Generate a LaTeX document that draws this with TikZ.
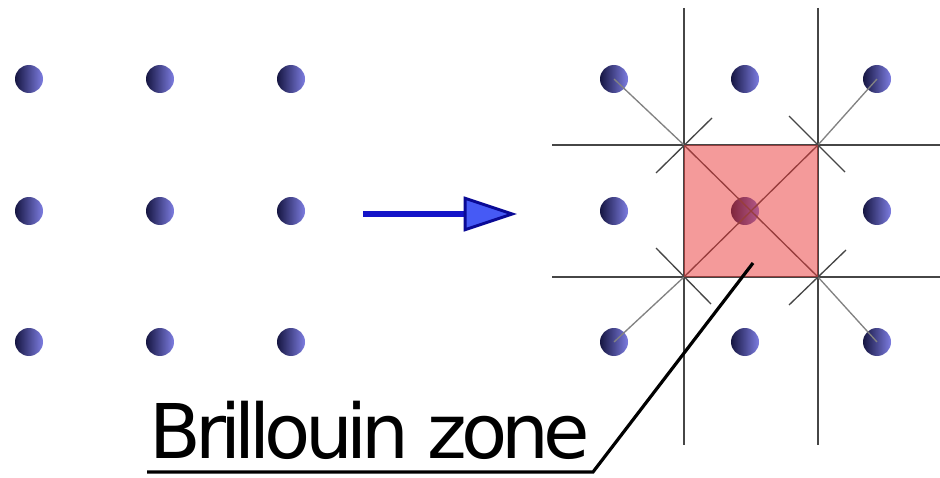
\documentclass[tikz,border=0pt]{standalone}
\usepackage{fontspec}
\newfontfamily\labfont[LetterSpace=-8]{DejaVu Sans}
\usetikzlibrary{arrows.meta}
\definecolor{dotdark}{RGB}{22,22,66}
\definecolor{dotlight}{RGB}{125,125,225}
\definecolor{gridcol}{RGB}{70,70,70}
\definecolor{diagcol}{RGB}{130,130,130}
\definecolor{zonered}{RGB}{235,55,55}
\definecolor{arrowblue}{RGB}{20,20,200}
\definecolor{arrowfill}{RGB}{70,90,245}
\definecolor{arrowedge}{RGB}{10,10,150}
\tikzset{
  atom/.style={circle, minimum size=21pt, inner sep=0pt, left color=dotdark, right color=dotlight, shading angle=90},
  gridline/.style={draw=gridcol, line width=1pt},
  dline/.style={draw=diagcol, line width=1pt},
  tick/.style={draw=gridcol, line width=1pt},
  leader/.style={draw=black, line width=2.4pt, line join=miter},
}
\begin{document}
\begin{tikzpicture}[x=0.75pt,y=-0.75pt]
\useasboundingbox[fill=white] (0,0) rectangle (940,478);
% left lattice
\foreach \i/\x in {1/29,2/160,3/291}{
  \foreach \j/\y in {1/79,2/211,3/342}{
    \node[atom] (L\i\j) at (\x,\y) {};
  }
}
% right lattice
\foreach \i/\x in {1/614,2/745,3/877}{
  \foreach \j/\y in {1/79,2/211,3/342}{
    \node[atom] (R\i\j) at (\x,\y) {};
  }
}
% zone corners
\coordinate (c1) at (684,145);
\coordinate (c2) at (818,145);
\coordinate (c3) at (818,277);
\coordinate (c4) at (684,277);
% grid lines
\draw[gridline] (684,8) -- (684,445);
\draw[gridline] (818,8) -- (818,445);
\draw[gridline] (552,145) -- (940,145);
\draw[gridline] (552,277) -- (940,277);
% diagonals dot -> corner
\draw[dline] (R11.center) -- (c1);
\draw[dline] (R31.center) -- (c2);
\draw[dline] (R33.center) -- (c3);
\draw[dline] (R13.center) -- (c4);
% diagonals inside the zone
\draw[gridline] (c1) -- (c3);
\draw[gridline] (c2) -- (c4);
% perpendicular ticks
\draw[tick] (656,173) -- (712,118);
\draw[tick] (789,116) -- (845,172);
\draw[tick] (656,248) -- (711,304);
\draw[tick] (789,305) -- (846,250);
% Brillouin zone
\fill[zonered, fill opacity=0.5] (c1) rectangle (c3);
% arrow
\coordinate (a1) at (363,214);
\coordinate (a2) at (517,214);
\draw[arrowblue, line width=4.5pt, -{Triangle[length=40pt, width=26pt, fill=arrowfill, color=arrowedge, line width=2.2pt]}] (a1) -- (a2);
% label
\node[inner sep=0pt, anchor=base west] (lab) at (149,458) {\labfont\fontsize{56.6}{60}\selectfont Brillouin zone};
\coordinate (p0) at (753,263);
\coordinate (p1) at (593,472);
\coordinate (p2) at (147,472);
\draw[leader] (p0) -- (p1) -- (p2);
\end{tikzpicture}
\end{document}
